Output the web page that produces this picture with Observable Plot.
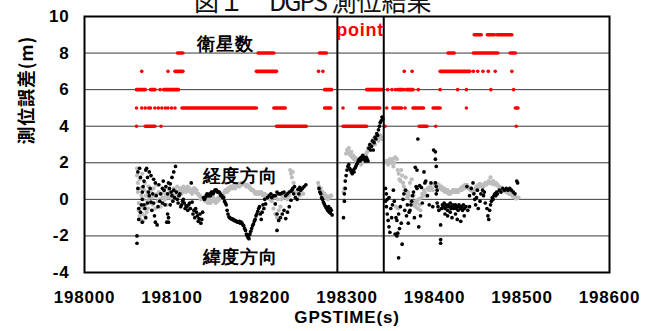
<!DOCTYPE html>
<html><head><meta charset="utf-8">
<script src="https://cdn.jsdelivr.net/npm/d3@7"></script>
<script src="https://cdn.jsdelivr.net/npm/@observablehq/plot@0.6"></script>
<style>
body{margin:0;background:#fff;position:relative;width:657px;height:331px;overflow:hidden}
#title{position:absolute;top:-12px;left:194px;font:400 25px "Noto Sans CJK JP",sans-serif;line-height:25px;white-space:pre;color:#111;z-index:2}
#title .lat{letter-spacing:-2px}
svg text{letter-spacing:0.8px}
</style></head><body>
<div id="title">図１　<span class="lat">DGPS</span> 測位結果</div>
<div id="chart"></div>
<script>
const T0 = 198000;
const xTicks = [198000,198100,198200,198300,198400,198500,198600];
const yTicks = [-4,-2,0,2,4,6,8,10];
const gridLevels = [-2,0,2,4,6,8];
const markerTimes = [198289,198342];
// satellite-count runs: [start s, end s, count] (seconds after 198000)
const satRuns = [
 [60,60,4],[70,81,4],[88,88,4],[220,254,4],[296,323,4],[344,344,4],[383,392,4],[402,402,4],[494,494,4],
 [60,60,5],[66,66,5],[70,70,5],[74,74,5],[76,76,5],[81,81,5],[85,85,5],[89,89,5],[93,93,5],[96,96,5],[100,100,5],[104,104,5],
 [112,197,5],[217,230,5],[275,282,5],[296,296,5],[315,338,5],[346,346,5],[353,363,5],[367,367,5],[376,388,5],[399,407,5],[437,437,5],[493,496,5],
 [60,70,6],[76,81,6],[87,87,6],[91,108,6],[275,283,6],[323,341,6],[347,347,6],[352,352,6],[356,356,6],[359,364,6],[366,366,6],[369,376,6],[382,382,6],[407,407,6],[427,427,6],[437,437,6],[465,465,6],[491,491,6],
 [66,66,7],[96,96,7],[104,113,7],[197,220,7],[268,268,7],[273,273,7],[366,366,7],[375,375,7],[407,441,7],[445,445,7],[450,450,7],[456,456,7],[462,462,7],[470,470,7],[489,489,7],
 [107,113,8],[199,217,8],[269,277,8],[416,423,8],[445,473,8],[487,493,8],
 [446,454,9],[461,469,9],[472,489,9]
];
// longitude error (grey): [s after 198000, m]
const lonErr = [
[60,1.7],[60,1.3],[61,0.9],[61,0.4],[62,-0.2],[62,-0.6],[63,1.1],[63,-0.9],[64,0.6],[64,-1.1],[65,0.2],[65,-0.4],[66,-0.8],[66,1.4],[67,0.0],[67,-1.2],[68,0.5],[68,-0.5],[69,-0.9],[69,0.9],[70,0.2],[70,-0.3],[71,-0.7],[72,0.4],[72,-0.1],[73,0.7],[73,-0.5],[74,0.1],[75,0.3],[75,-0.2],
[76,0.5],[77,0.1],[78,-0.3],[79,0.6],[80,0.2],[81,-0.5],[82,0.8],[83,0.3],[84,-0.1],[85,0.4],[86,0.0],[87,-0.4],[88,0.3],[89,0.1],[90,-0.2],[91,0.4],[92,0.0],[93,0.2],[94,-0.3],[95,0.3],[96,0.1],[97,0.5],[98,0.2],[99,0.4],[100,0.0],[101,0.3],[102,0.6],[103,0.2],[104,0.5],[105,0.3],[106,0.7],[107,0.4],[108,0.2],[109,0.5],[110,0.6],[111,0.3],[112,0.4],[113,0.7],[114,0.5],[115,0.6],[116,0.4],[117,0.6],[118,0.7],[119,0.5],[120,0.6],[121,0.4],[122,0.5],[123,0.3],[124,0.4],[125,0.6],[126,0.6],[127,0.4],[128,0.5],[129,0.3],[130,0.3],[131,0.2],[132,0.2],[133,0.0],[134,0.1],
[136,0.0],[137,0.1],[138,-0.1],[139,0.0],[140,0.0],[141,-0.2],[142,-0.1],[143,0.0],[144,-0.2],[145,-0.1],[146,-0.1],[147,0.1],[148,0.0],[149,-0.1],[150,-0.2],[151,0.0],[152,-0.1],[153,0.1],[154,0.0],[155,0.1],[156,0.2],[157,0.3],[158,0.3],[159,0.2],[160,0.4],[161,0.5],[162,0.5],[163,0.4],[164,0.6],[165,0.5],[166,0.6],[167,0.7],[168,0.7],[169,0.6],[170,0.7],[171,0.8],[172,0.6],[173,0.7],[174,0.7],[175,0.8],[176,0.8],[177,0.7],[178,0.8],[179,0.9],[180,0.8],[181,0.9],[182,0.9],[183,0.8],[184,0.8],[185,0.7],[186,0.8],[187,0.7],[188,0.7],[189,0.6],[190,0.6],[191,0.5],[192,0.5],[193,0.5],[194,0.4],[195,0.3],[196,0.4],[197,0.3],[198,0.3],[199,0.4],[200,0.3],
[202,0.4],[203,0.3],[204,0.2],[205,0.3],[206,0.3],[207,0.1],[208,0.1],[209,0.2],[210,0.2],[211,0.1],[212,0.0],[213,0.1],[214,-0.1],[216,-0.5],[217,0.1],[218,-0.8],[219,0.2],[220,-1.0],[221,0.0],[222,-0.6],[223,0.3],[224,-0.4],[225,0.0],[226,0.2],[228,0.1],[230,0.3],[232,0.0],[234,0.2],[235,1.6],[236,1.4],[237,1.2],[238,1.5],[239,0.9],[240,0.4],[242,0.3],[244,0.5],[246,0.2],[248,0.4],[250,0.3],
[267,0.9],[268,0.7],[269,0.5],[270,0.6],[271,0.3],[272,0.4],[273,0.2],[274,0.3],[275,0.1],[276,0.2],[277,0.1],[278,0.0],[279,0.1],[280,0.1],[281,0.2],[282,0.2],
[296,0.4],[297,0.6],[299,2.5],[300,2.7],[301,2.6],[302,2.8],[303,2.5],[304,2.4],[305,2.6],[306,2.3],[307,2.4],[308,2.2],[309,2.3],[310,2.1],[311,2.2],[312,2.0],[313,2.1],[314,2.2],[315,2.0],[316,1.9],[317,2.0],[318,2.1],[319,2.2],[320,2.3],[321,2.4],[322,2.5],[323,2.6],[324,2.8],[325,2.7],[326,2.9],[327,3.0],[328,3.1],[329,3.0],[330,3.3],[331,3.2],[332,3.0],[333,3.3],[334,3.4],[335,3.3],[336,3.2],[337,3.4],[338,3.5],[339,3.4],[340,3.3],
[345,2.1],[346,2.0],[347,1.9],[348,2.0],[349,2.2],[350,2.1],[351,2.0],[352,2.2],[353,1.8],[354,2.0],[355,2.3],[356,-0.4],[357,2.2],[358,1.6],[358,-0.5],[359,1.4],[360,1.1],[361,1.0],[362,1.6],[363,1.3],[364,0.9],[365,0.7],[366,0.5],[367,1.2],[368,0.3],[369,0.1],[370,0.4],[371,0.2],[372,0.9],[373,-0.1],[374,1.1],[375,-0.3],[376,0.2],[377,-0.2],[378,-0.4],[379,-0.1],[380,-0.2],[381,-0.5],[382,0.0],[383,-0.3],[384,-0.6],[385,0.1],[386,0.3],[387,0.2],[388,0.5],[389,0.4],[390,0.2],[392,0.6],[394,0.5],[395,0.7],[397,0.6],[398,0.5],[400,0.8],
[401,0.9],[402,0.8],[403,0.85],[404,0.7],[405,0.8],[406,0.7],[407,0.6],[408,0.7],[409,0.5],[410,0.5],[411,0.6],[412,0.4],[413,0.5],[414,0.4],[415,0.5],[416,0.3],[417,0.4],[418,0.3],[419,0.4],[420,0.4],[421,0.5],[422,0.5],[423,0.4],[424,0.5],[425,0.4],[426,0.5],[427,0.4],[428,0.5],[429,0.5],[430,0.6],[431,0.5],[432,0.7],[433,0.7],[434,0.6],[435,0.8],[436,0.7],[437,0.8],[438,0.7],[439,0.6],[440,0.6],[441,0.5],[442,0.6],[443,0.5],[444,0.4],[445,0.4],[446,0.5],[447,0.6],[448,0.7],[449,0.6],[450,0.8],[451,0.7],[452,0.85],[453,0.8],[454,0.7],[455,0.8],[456,0.7],[457,0.8],[458,0.9],[459,0.8],[460,0.85],[461,0.9],[462,1.0],[463,0.9],[464,1.2],[465,0.9],[466,0.85],[467,1.0],[468,0.9],[469,0.8],[470,0.9],[471,0.85],[472,0.8],[473,0.7],[474,0.7],[475,0.65],[476,0.6],[477,0.6],[478,0.5],[479,0.5],[480,0.45],[481,0.5],[482,0.4],[483,0.4],[484,0.35],[485,0.3],[486,0.3],[487,0.3],[488,0.25],[489,0.2],[490,0.15],[491,0.2],[492,0.1],[493,0.05],[494,0.05],[495,0.1],[496,0.1]
];
// latitude error (black): [s after 198000, m]
const latErr = [
[60,-2.0],[60,-2.4],[63,1.7],[71,1.7],[74,1.5],[76,1.3],[79,1.1],[81,0.9],[68,1.0],[66,0.4],[66,0.0],[68,-0.3],[64,-0.7],[70,-1.0],[66,-1.25],[62,-1.1],[74,0.2],[76,-0.15],[79,-0.2],[77,-0.6],[81,-1.25],[83,-1.4],[85,0.8],[89,0.6],[91,0.5],[93,0.7],[86,-0.1],[89,-0.2],[95,-0.8],[96,-1.0],[96,-1.25],[96,0.9],[100,1.2],[102,1.5],[104,1.8],[98,0.85],[102,0.5],[100,0.2],[98,-0.3],[108,0.2],[112,-0.1],[114,-0.2],[117,-0.4],[119,-0.3],[123,-0.15],[122,0.9],[125,-0.6],[129,-0.9],[131,-1.05],[133,-1.3],[135,-0.7],
[61,1.5],[61,0.6],[62,-0.5],[64,1.2],[65,-0.3],[67,0.7],[69,-0.5],[70,1.6],[72,1.2],[72,-0.2],[73,0.4],[75,0.6],[78,0.3],[80,-0.9],[82,0.2],[84,-0.4],[87,0.3],[90,1.0],[92,-0.3],[94,-1.25],[95,0.3],[97,0.6],[99,0.4],[101,-0.1],[103,0.1],[105,0.4],[106,0.0],[107,-0.2],[109,0.3],[110,-0.4],[111,-0.3],[113,0.0],[115,-0.5],[116,-0.35],[118,-0.6],[120,-0.2],[121,-0.5],[124,-0.8],[126,-1.0],[127,-0.5],[128,-0.7],[130,-1.2],[132,-0.8],[134,-1.1],
[136,0.1],[137,0.0],[138,0.1],[139,0.2],[140,0.3],[141,0.2],[142,0.2],[143,0.3],[144,0.2],[145,0.4],[146,0.4],[147,0.3],[148,0.4],[149,0.5],[150,0.5],[151,0.5],[152,0.4],[153,0.4],[154,0.4],[155,0.3],[156,0.2],[157,0.2],[158,0.1],[159,0.1],[160,-0.1],[161,-0.2],[162,-0.3],[163,-0.6],[164,-0.8],[165,-0.95],[166,-1.0],[167,-1.05],[168,-1.05],[169,-1.1],[170,-1.1],[171,-1.15],[172,-1.15],[173,-1.2],[174,-1.2],[175,-1.25],[176,-1.25],[177,-1.2],[178,-1.3],[179,-1.25],[180,-1.3],[181,-1.4],[182,-1.45],[183,-1.6],[184,-1.7],[185,-1.9],[186,-2.0],[187,-2.1],[188,-2.15],[188,-1.95],[189,-1.9],[190,-1.75],[191,-1.6],[192,-1.45],[193,-1.35],[194,-1.2],[195,-1.1],[196,-0.9],[197,-0.8],[198,-0.65],[199,-0.5],[200,-0.4],
[201,-0.8],[203,-0.7],[205,-0.5],[207,-0.25],[209,0.1],[211,0.2],[213,0.3],[214,0.1],[216,0.2],[218,0.2],[220,0.4],[222,0.3],[224,0.3],[226,0.35],[228,0.4],[230,0.2],[232,0.3],[234,0.4],[236,0.45],[237,0.5],[239,0.3],[241,0.1],[243,0.0],[245,0.3],[247,0.5],[249,0.6],[251,0.7],[253,0.8],
[202,-1.1],[204,-0.3],[206,0.0],[218,-0.25],[220,-0.8],[222,-1.15],[224,-1.0],[226,-0.8],[228,-0.6],[230,-1.05],[220,-1.7],[232,-0.7],[234,-0.4],[236,-0.05],[238,0.6],[240,0.7],[244,0.55],[246,0.65],
[268,0.6],[269,0.4],[270,0.3],[271,0.1],[272,0.0],[273,-0.15],[274,-0.25],[275,-0.35],[276,-0.45],[277,-0.5],[278,-0.6],[279,-0.65],[280,-0.7],[281,-0.75],[282,-0.6],[283,-0.85],[279,-0.4],[281,-0.5],
[296,-1.0],[297,-0.1],[297,0.3],[298,0.6],[298,1.0],[299,1.3],[300,1.6],[301,1.8],[302,1.9],[303,1.7],[304,1.6],[305,1.5],[306,1.4],[307,1.6],[308,1.5],[309,1.7],[310,1.8],[311,1.9],[312,2.0],[313,2.1],[314,2.2],[315,2.1],[316,2.3],[317,2.2],[318,2.4],[319,2.3],[320,2.2],[321,2.1],[322,2.3],[323,2.2],[324,2.1],[325,2.8],[326,3.0],[327,2.7],[328,2.9],[329,3.2],[330,2.7],[331,3.1],[332,3.4],[333,3.3],[334,3.6],[335,3.5],[336,3.8],[337,4.0],[338,4.2],[339,4.3],[340,4.5],[341,4.4],
[344,0.6],[344,-0.1],[345,-0.4],[345,0.3],[346,0.0],[346,-0.8],[347,-1.15],[348,0.1],[348,-1.5],[349,-1.8],[350,-0.5],[351,-1.0],[352,-0.3],[353,0.5],[354,-0.1],[355,-1.9],[356,-1.0],[357,-1.15],[357,-2.0],[358,-1.85],[359,-3.2],[359,-0.8],[360,-1.6],[361,-0.4],[362,-1.3],[363,-2.45],[364,0.0],[365,0.3],[366,-0.6],[367,0.5],[368,-0.9],[369,-0.3],[370,-1.3],[371,-0.7],[372,-0.6],[373,-0.3],[374,-0.1],[375,0.2],[376,0.4],[377,-1.0],[378,1.75],[379,0.7],[380,1.6],[380,0.6],[381,3.3],[382,-1.5],[383,0.75],[384,-0.9],[385,0.65],[386,-0.2],[388,1.5],[389,0.9],[390,1.0],[392,0.2],[394,-0.3],[396,0.9],[398,-0.4],[399,2.7],
[401,2.6],[401,2.2],[402,1.8],[401,0.9],[402,0.7],[403,0.5],[402,0.3],[403,-0.2],[404,-0.4],[405,-0.6],[407,-1.4],[407,-2.2],[407,-2.4],[408,-0.5],[409,-0.3],[410,-0.4],[411,-0.2],[412,-0.5],[413,-0.3],[414,-0.4],[415,-0.6],[416,-0.3],[417,-0.4],[418,-0.2],[419,-0.5],[420,-0.4],[421,-0.3],[422,-0.5],[423,-0.4],[424,-0.3],[425,-0.5],[426,-0.4],[427,-0.6],[428,-0.3],[429,-0.4],[430,-0.5],[431,-0.4],[432,-0.6],[433,-0.3],[434,-0.5],[436,-0.4],[438,-0.6],[440,-0.4],
[412,-0.8],[415,-0.9],[418,-0.7],[420,-1.0],[424,-0.8],[426,-1.1],[430,-1.2],[434,-0.9],
[437,0.7],[440,0.2],[442,0.6],[444,0.9],[445,0.3],[446,0.0],[447,-0.3],[448,0.1],[449,0.5],[450,-0.5],[452,-0.1],[453,0.3],[455,0.5],[456,0.2],[457,0.4],[458,-0.2],[460,-0.5],[461,-0.9],[462,-1.1],[463,-0.6],[464,-0.3],[465,-0.1],[466,0.1],[467,0.0],[468,0.2],[469,0.3],[470,0.2],[471,0.4],[472,0.3],[474,0.5],[476,0.4],[478,0.6],[480,0.5],[482,0.6],[484,0.5],[486,0.6],[488,0.5],[490,0.4],[492,0.3],[494,1.0],[495,0.9]
];
const notes = [
 {text:"衛星数", t:198161, v:8.47, color:"#000"},
 {text:"経度方向", t:198178, v:1.28, color:"#000"},
 {text:"緯度方向", t:198178, v:-3.15, color:"#000"},
 {text:"point", t:198315, v:9.23, color:"#ff0000"}
];

const sat = satRuns.map(([a,b,n]) => ({t0:T0+a, t1:T0+b, n}));
const lon = lonErr.map(([t,v]) => ({t:T0+t, v}));
const lat = latErr.map(([t,v]) => ({t:T0+t, v}));
const numFont = '"Liberation Sans", Arial, sans-serif';
const cjkFont = '"Noto Sans CJK JP", sans-serif';

const chart = Plot.plot({
  width: 657, height: 331,
  marginTop: 16, marginRight: 48, marginBottom: 59, marginLeft: 84,
  x: {domain: [198000, 198600]},
  y: {domain: [-4, 10]},
  style: {fontFamily: numFont, background: "#fff", color: "#000"},
  marks: [
    Plot.ruleY(gridLevels, {stroke: "#3a3a3a", strokeWidth: 1}),
    Plot.ruleY(sat, {y: "n", x1: "t0", x2: "t1", stroke: "#ff0000", strokeWidth: 3.6, strokeLinecap: "round"}),
    Plot.dot(lon, {x: "t", y: "v", r: 2.1, fill: "#bdbdbd", stroke: "none"}),
    Plot.dot(lat, {x: "t", y: "v", r: 1.85, fill: "#000", stroke: "none"}),
    Plot.ruleX(markerTimes, {stroke: "#000", strokeWidth: 2}),
    Plot.frame({stroke: "#000", strokeWidth: 2}),
    Plot.axisX({ticks: xTicks, tickSize: 0, tickPadding: 18, tickFormat: d => String(d), fontSize: 17, fontWeight: "bold", label: null}),
    Plot.axisY({ticks: yTicks, tickSize: 0, tickPadding: 15, tickFormat: d => d < 0 ? "-" + Math.abs(d) : String(d), fontSize: 17, fontWeight: "bold", label: null}),
    Plot.text(notes, {x: "t", y: "v", text: "text", fill: "color", fontSize: 18, fontWeight: "bold", fontFamily: d => d.text === "point" ? numFont : cjkFont}),
    Plot.text(["GPSTIME(s)"], {frameAnchor: "bottom", dy: 50, fontSize: 17, fontWeight: "bold"}),
    Plot.text(["測位誤差(m)"], {frameAnchor: "left", dx: -57, rotate: -90, fontSize: 18, fontWeight: "bold", fontFamily: cjkFont})
  ]
});
document.getElementById("chart").appendChild(chart);
</script>
</body></html>
